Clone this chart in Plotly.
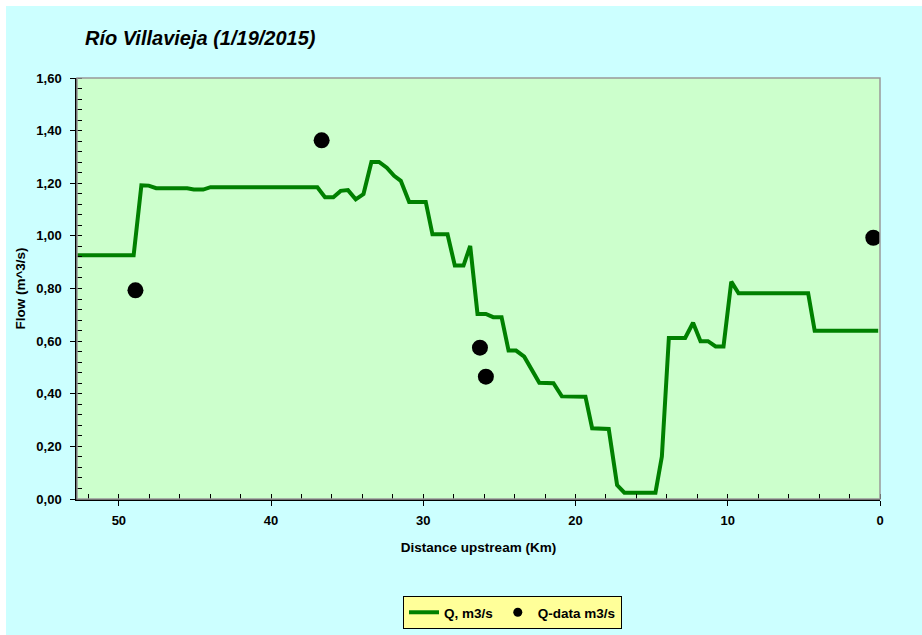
import plotly.graph_objects as go

# Modelled flow profile along the river (distance upstream in km, flow in m3/s)
model_km = [52.75, 49.03, 48.52, 48.04, 47.55, 45.51, 45.08, 44.46, 43.98, 36.96,
            36.46, 35.91, 35.43, 34.95, 34.44, 33.93, 33.41, 32.91, 32.40, 31.92,
            31.48, 30.93, 29.84, 29.40, 28.41, 27.93, 27.36, 26.92, 26.44, 25.89,
            25.41, 24.86, 24.40, 23.91, 23.37, 22.86, 22.38, 21.45, 20.90, 19.35,
            18.91, 17.82, 17.27, 16.79, 14.75, 14.33, 13.87, 12.80, 12.28, 11.79,
            11.30, 10.80, 10.28, 9.77, 9.29, 4.72, 4.29, 0.12]
model_q = [0.926, 0.926, 1.192, 1.191, 1.181, 1.181, 1.176, 1.176, 1.185, 1.185,
           1.147, 1.147, 1.171, 1.174, 1.139, 1.159, 1.281, 1.281, 1.259, 1.228,
           1.209, 1.129, 1.129, 1.006, 1.006, 0.887, 0.887, 0.962, 0.703, 0.703,
           0.691, 0.691, 0.564, 0.564, 0.541, 0.493, 0.442, 0.440, 0.390, 0.389,
           0.269, 0.266, 0.053, 0.024, 0.024, 0.161, 0.612, 0.612, 0.670, 0.600,
           0.600, 0.580, 0.580, 0.826, 0.782, 0.782, 0.639, 0.639]

# Measured flows
data_km = [48.91, 36.68, 26.28, 25.89, 0.44]
data_q = [0.793, 1.363, 0.575, 0.465, 0.993]

title_text = "Río Villavieja (1/19/2015)"
x_title = "Distance upstream (Km)"
y_title = "Flow (m^3/s)"
line_name = "Q, m3/s"
data_name = "Q-data m3/s"

FONT = "Arial, 'Liberation Sans', sans-serif"

fig = go.Figure()
fig.add_trace(go.Scatter(
    x=model_km, y=model_q, mode="lines", name=line_name,
    line=dict(color="#008000", width=4),
))
fig.add_trace(go.Scatter(
    x=data_km, y=data_q, mode="markers", name=data_name, showlegend=False,
    marker=dict(color="#000000", size=16),
))
# smaller symbol for the legend entry of the measured points
fig.add_trace(go.Scatter(
    x=[None], y=[None], mode="markers", name=data_name,
    marker=dict(color="#000000", size=9),
))

W, H = 922, 635
L, R, T, B = 77, 42, 78, 136
pw, ph = W - L - R, H - T - B


def px_x(p):
    return (p - L) / pw


def px_y(p):
    return (H - B - p) / ph


shapes = [
    # white strips along the left and top edges of the page
    dict(type="rect", xref="paper", yref="paper", x0=px_x(0), x1=px_x(6),
         y0=px_y(H), y1=px_y(0), fillcolor="white", line=dict(width=0), layer="below"),
    dict(type="rect", xref="paper", yref="paper", x0=px_x(0), x1=px_x(W),
         y0=px_y(6), y1=px_y(0), fillcolor="white", line=dict(width=0), layer="below"),
    # grey frame around the plotting area
    dict(type="rect", xref="paper", yref="paper", x0=0, x1=1, y0=0, y1=1,
         line=dict(color="#999999", width=1.5), fillcolor="rgba(0,0,0,0)", layer="above"),
]

tick_font = dict(family=FONT, size=13, color="#000000", weight="bold")
title_font = dict(family=FONT, size=13.5, color="#000000", weight="bold")

fig.update_layout(
    width=W, height=H,
    margin=dict(l=L, r=R, t=T, b=B, autoexpand=False),
    paper_bgcolor="#CCFFFF",
    plot_bgcolor="#CCFFCC",
    separators=",.",
    font=dict(family=FONT, size=12, color="#000000"),
    title=dict(text="<b><i>" + title_text + "</i></b>", x=85 / W, xanchor="left",
               y=1 - 38 / H, yanchor="middle", xref="container", yref="container",
               font=dict(family=FONT, size=20, color="#000000")),
    showlegend=True,
    legend=dict(orientation="h", x=px_x(403), y=px_y(596), xanchor="left", yanchor="top",
                bgcolor="#FFFF99", bordercolor="#000000", borderwidth=1,
                font=dict(family=FONT, size=13.5, color="#000000", weight="bold"),
                itemwidth=30, tracegroupgap=0),
    shapes=shapes,
)

fig.update_xaxes(
    range=[52.75, 0], showgrid=False, zeroline=False,
    showline=True, linecolor="#000000", linewidth=1.5,
    tickmode="linear", tick0=0, dtick=10, ticks="outside", ticklen=5,
    tickcolor="#000000", tickwidth=1, ticklabelstandoff=4,
    minor=dict(tickmode="linear", tick0=0, dtick=2, ticks="inside", ticklen=5,
               tickcolor="#000000", tickwidth=1, showgrid=False),
    tickfont=tick_font,
    title=dict(text=x_title, font=title_font, standoff=15),
    automargin=False,
)
fig.update_yaxes(
    range=[0, 1.6], showgrid=False, zeroline=False,
    showline=True, linecolor="#000000", linewidth=1.5,
    tickmode="linear", tick0=0, dtick=0.2, tickformat=".2f",
    ticks="outside", ticklen=5, tickcolor="#000000", tickwidth=1, ticklabelstandoff=6,
    minor=dict(tickmode="linear", tick0=0, dtick=0.04, ticks="inside", ticklen=5,
               tickcolor="#000000", tickwidth=1, showgrid=False),
    tickfont=tick_font,
    title=dict(text=y_title, font=title_font, standoff=8),
    automargin=False,
)

fig.write_html("out.html")
